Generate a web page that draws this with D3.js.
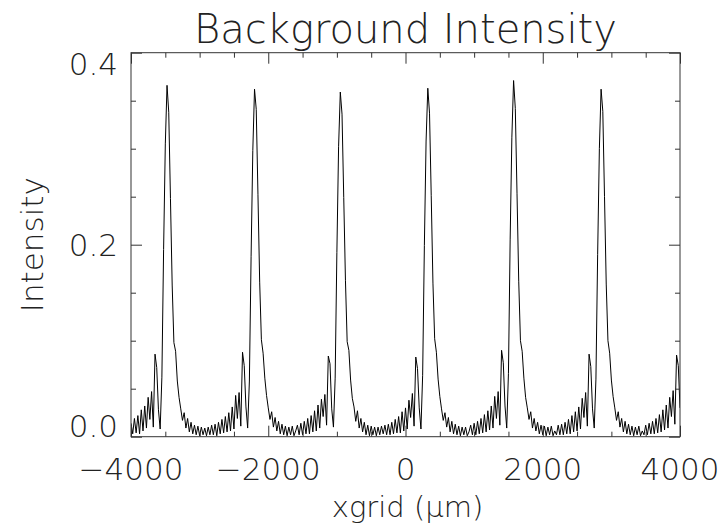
<!DOCTYPE html>
<html>
<head>
<meta charset="utf-8">
<script src="https://cdn.jsdelivr.net/npm/d3@7"></script>
<style>
  body { margin: 0; background: #fff; }
  text { font-family: "DejaVu Sans", sans-serif; font-weight: 200; fill: #222; }
</style>
</head>
<body>
<div id="chart"></div>
<script>
// xgrid runs from -4000 to 4000 um in 25 um steps
let xStart = -4000
let xStep = 25
let intensity = [
  0.014, 0.003, 0.019, 0.004, 0.022, 0.003, 0.028, 0.006, 0.032, 0.009, 0.041, 0.018, 0.047, 0.010, 0.086, 0.072, 0.028, 0.008, 0.062, 0.195, 0.305,
  0.366,
  0.338, 0.248, 0.158, 0.098, 0.089, 0.058, 0.041, 0.029, 0.017, 0.025, 0.009, 0.019, 0.005, 0.015, 0.003, 0.012, 0.002, 0.011, 0.001, 0.010, 0.002, 0.009, 0.001, 0.010, 0.002,
  0.012, 0.002, 0.013, 0.001, 0.015, 0.003, 0.018, 0.004, 0.021, 0.005, 0.025, 0.006, 0.031, 0.008, 0.043, 0.019, 0.046, 0.011, 0.088, 0.074, 0.031, 0.009, 0.058, 0.188, 0.298,
  0.362,
  0.341, 0.252, 0.161, 0.101, 0.087, 0.061, 0.043, 0.030, 0.018, 0.026, 0.010, 0.020, 0.006, 0.016, 0.003, 0.013, 0.002, 0.011, 0.001, 0.010, 0.002, 0.011, 0.001, 0.006,
  0.012, 0.002, 0.014, 0.002, 0.016, 0.003, 0.019, 0.003, 0.022, 0.005, 0.027, 0.006, 0.033, 0.009, 0.039, 0.021, 0.044, 0.012, 0.084, 0.076, 0.029, 0.010, 0.061, 0.192, 0.302,
  0.359,
  0.336, 0.249, 0.163, 0.099, 0.090, 0.059, 0.040, 0.031, 0.016, 0.027, 0.009, 0.019, 0.005, 0.015, 0.002, 0.012, 0.001, 0.011, 0.002, 0.010, 0.001, 0.010, 0.002, 0.011, 0.003,
  0.012, 0.002, 0.013, 0.002, 0.015, 0.003, 0.018, 0.004, 0.021, 0.004, 0.026, 0.006, 0.030, 0.008, 0.038, 0.020, 0.045, 0.011, 0.083, 0.071, 0.030, 0.008, 0.064, 0.199, 0.308,
  0.363,
  0.337, 0.251, 0.160, 0.102, 0.088, 0.060, 0.042, 0.029, 0.017, 0.025, 0.010, 0.020, 0.005, 0.016, 0.003, 0.013, 0.002, 0.011, 0.001, 0.010, 0.002, 0.010, 0.001, 0.005,
  0.012, 0.002, 0.014, 0.002, 0.016, 0.003, 0.019, 0.004, 0.023, 0.005, 0.027, 0.007, 0.032, 0.009, 0.042, 0.019, 0.047, 0.012, 0.090, 0.077, 0.032, 0.009, 0.066, 0.205, 0.312,
  0.371,
  0.342, 0.253, 0.162, 0.100, 0.089, 0.061, 0.041, 0.030, 0.018, 0.026, 0.009, 0.019, 0.006, 0.015, 0.003, 0.012, 0.002, 0.011, 0.001, 0.010, 0.002, 0.011, 0.001, 0.006, 0.002,
  0.012, 0.002, 0.013, 0.002, 0.015, 0.003, 0.018, 0.003, 0.022, 0.005, 0.026, 0.006, 0.031, 0.008, 0.040, 0.020, 0.046, 0.011, 0.086, 0.073, 0.029, 0.009, 0.060, 0.190, 0.300,
  0.362,
  0.339, 0.250, 0.159, 0.100, 0.087, 0.059, 0.042, 0.030, 0.017, 0.026, 0.010, 0.019, 0.005, 0.016, 0.003, 0.013, 0.002, 0.011, 0.001, 0.010, 0.002, 0.011, 0.001, 0.006,
  0.002, 0.012, 0.002, 0.014, 0.003, 0.016, 0.003, 0.019, 0.004, 0.023, 0.005, 0.028, 0.007, 0.033, 0.009, 0.041, 0.021, 0.048, 0.013, 0.085, 0.074, 0.030
]
let xMajor = [-4000, -2000, 0, 2000, 4000]
let xMinor = [-3500, -3000, -2500, -1500, -1000, -500, 500, 1000, 1500, 2500, 3000, 3500]
let yMajor = [0, 0.2, 0.4]
let yMinor = [0.05, 0.1, 0.15, 0.25, 0.3, 0.35]
let xLabels = ['\u22124000', '\u22122000', '0', '2000', '4000']
let yLabels = ['0.0', '0.2', '0.4']

let width = 720
let height = 529
let margin = {top: 52.7, right: 40, bottom: 92.3, left: 131}
let innerWidth = width - margin.left - margin.right
let innerHeight = height - margin.top - margin.bottom

let data = intensity.map(function (v, i) { return {x: xStart + i * xStep, y: v} })

let svg = d3.select('#chart').append('svg')
            .attr('width', width)
            .attr('height', height)

let x = d3.scaleLinear().domain([-4000, 4000]).range([0, innerWidth])
let y = d3.scaleLinear().domain([0, 0.4]).range([innerHeight, 0])

let g = svg.append('g').attr('transform', 'translate(' + margin.left + ',' + margin.top + ')')

g.append('clipPath').attr('id', 'frame')
  .append('rect').attr('width', innerWidth).attr('height', innerHeight)

g.append('path')
  .datum(data)
  .attr('clip-path', 'url(#frame)')
  .attr('fill', 'none')
  .attr('stroke', '#000')
  .attr('stroke-width', 1)
  .attr('d', d3.line().x(function (d) { return x(d.x) }).y(function (d) { return y(d.y) }))

function ticksOnly (sel) {
  sel.select('.domain').remove()
  sel.selectAll('text').remove()
  sel.selectAll('line').attr('stroke', '#333')
}

// ticks point inward on all four sides
let sides = [
  [d3.axisBottom, x, innerHeight, 'y'],
  [d3.axisTop, x, 0, 'y'],
  [d3.axisLeft, y, 0, 'x'],
  [d3.axisRight, y, innerWidth, 'x']
]
sides.forEach(function (s) {
  let major = s[1] === x ? xMajor : yMajor
  let minor = s[1] === x ? xMinor : yMinor
  let shift = s[3] === 'y' ? 'translate(0,' + s[2] + ')' : 'translate(' + s[2] + ',0)'
  g.append('g').attr('transform', shift)
    .call(s[0](s[1]).tickValues(major).tickSize(-11))
    .call(ticksOnly)
  g.append('g').attr('transform', shift)
    .call(s[0](s[1]).tickValues(minor).tickSize(-5))
    .call(ticksOnly)
})

g.selectAll('.xlab')
  .data(xMajor)
  .enter()
  .append('text')
  .attr('class', 'xlab')
  .attr('x', function (d) { return x(d) })
  .attr('y', innerHeight + 43)
  .attr('text-anchor', 'middle')
  .attr('font-size', 31)
  .text(function (d, i) { return xLabels[i] })

// end labels are kept inside the axis span
g.selectAll('.ylab')
  .data(yMajor)
  .enter()
  .append('text')
  .attr('class', 'ylab')
  .attr('x', -13)
  .attr('y', function (d) { return y(d) })
  .attr('dy', function (d, i) { return i === 0 ? '0em' : (i === yMajor.length - 1 ? '0.73em' : '0.36em') })
  .attr('text-anchor', 'end')
  .attr('font-size', 31)
  .text(function (d, i) { return yLabels[i] })

g.append('rect')
  .attr('width', innerWidth)
  .attr('height', innerHeight)
  .attr('fill', 'none')
  .attr('stroke', '#333')
  .attr('stroke-width', 1)

svg.append('text')
  .attr('x', margin.left + innerWidth / 2)
  .attr('y', 43)
  .attr('text-anchor', 'middle')
  .attr('font-size', 40)
  .text('Background Intensity')

svg.append('text')
  .attr('x', margin.left + innerWidth / 2 + 2)
  .attr('y', 517)
  .attr('text-anchor', 'middle')
  .attr('font-size', 29)
  .text('xgrid (\u00b5m)')

svg.append('text')
  .attr('transform', 'translate(43,' + (margin.top + innerHeight / 2) + ') rotate(-90)')
  .attr('text-anchor', 'middle')
  .attr('font-size', 31)
  .text('Intensity')
</script>
</body>
</html>
